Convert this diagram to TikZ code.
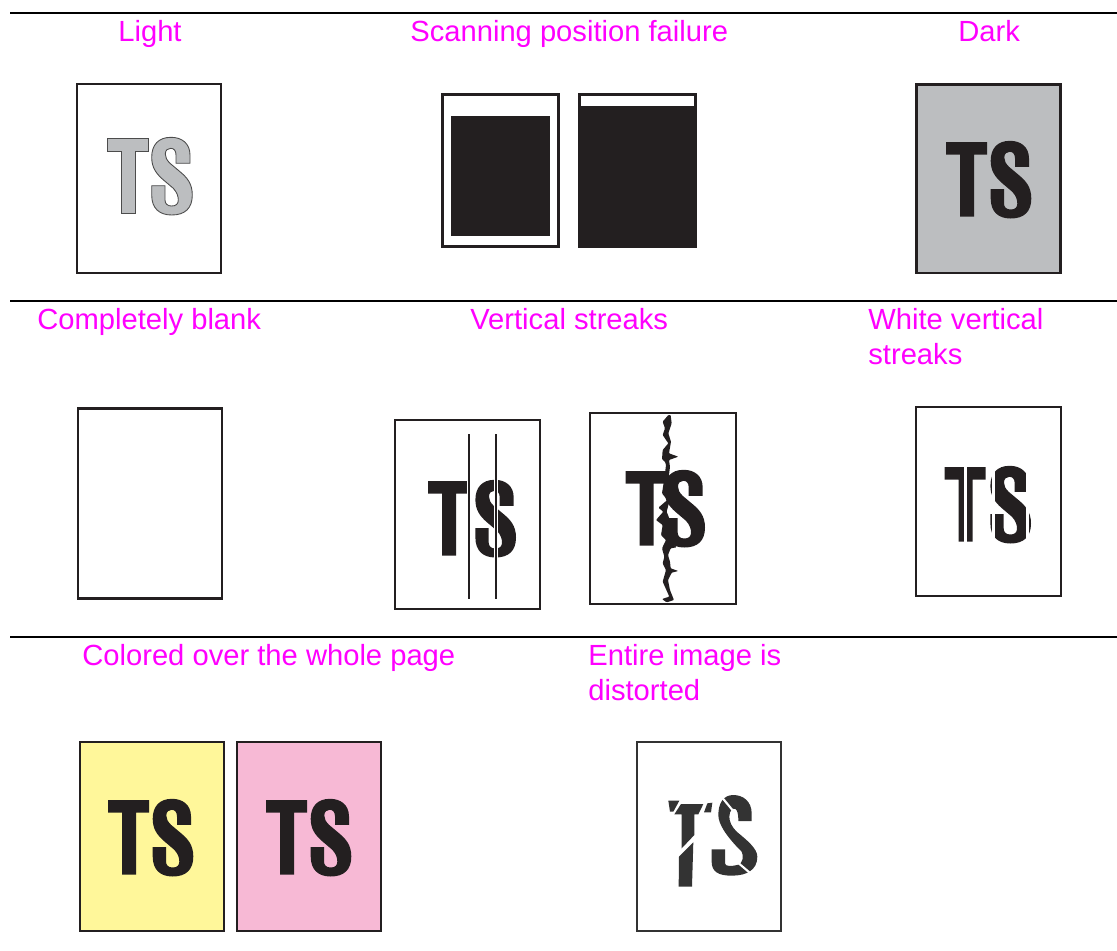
\documentclass[tikz,border=0pt]{standalone}
\usepackage{fontspec}
\setmainfont{Liberation Sans}
\definecolor{inkdark}{HTML}{231F20}
\definecolor{tonergray}{HTML}{BCBEC0}
\definecolor{paleyellow}{HTML}{FFF79A}
\definecolor{palepink}{HTML}{F7B9D5}
\definecolor{captionpink}{HTML}{FF00FF}
\newcommand{\glyphTpath}{(30,54.5) -- (71,54.5) -- (71,67) -- (58,67) -- (58,129) -- (44,129) -- (44,67) -- (30,67) -- cycle}
\newcommand{\glyphSpath}{(113,79.3) -- (113,71) .. controls (113,59.3) and (104.7,53.3) .. (94,53.3)
    .. controls (81.3,53.3) and (74.7,61) .. (74.7,73.3) .. controls (74.7,83.3) and (79,89.3) .. (85.7,95.3)
    -- (96.3,104.3) .. controls (100.3,108.7) and (101.3,112.7) .. (101.3,116)
    .. controls (101.3,120) and (99,122) .. (94.7,122) .. controls (90.7,122) and (88,120) .. (88,116)
    -- (88,101.7) -- (74.7,101.7) -- (74.7,111) .. controls (74.7,124.3) and (82.3,131) .. (94.7,131)
    .. controls (108,131) and (115.3,124.3) .. (115.3,111) .. controls (115.3,99.3) and (109.7,93.3) .. (103,87.7)
    -- (93,79.3) .. controls (89.7,76) and (88.3,73.3) .. (88.3,70) .. controls (88.3,66) and (91,64.3) .. (93.7,64.3)
    .. controls (97,64.3) and (99,66.7) .. (99,71) -- (99,79.3) -- cycle}
\tikzset{
  defect/.style={text=captionpink,anchor=base west,align=left,inner sep=0pt,font=\fontsize{16.6}{19.8}\selectfont},
  rule/.style={line width=0.8pt,black},
  pagebox/.style={draw=inkdark,line width=1.5pt},
  glyphT/.pic={\path[pic actions] \glyphTpath;},
  glyphS/.pic={\path[pic actions] \glyphSpath;},
  tsmark/.pic={\path[pic actions] \glyphTpath; \path[pic actions] \glyphSpath;}
}
\begin{document}
\begin{tikzpicture}[x=0.02cm,y=-0.02cm]
\useasboundingbox (0,0) rectangle (1117,951);
% separators
\draw[rule] (10,13) -- (1117,13);
\draw[rule] (10,301) -- (1117,301);
\draw[rule] (10,637) -- (1117,637);
% captions
\node[defect] (lightlabel) at (118,41) {Light};
\node[defect] (scanlabel) at (410,41) {Scanning position failure};
\node[defect] (darklabel) at (958,41) {Dark};
\node[defect] (blanklabel) at (37,329) {Completely blank};
\node[defect] (streaklabel) at (470,329) {Vertical streaks};
\node[defect] (whitelabel) at (868,364) {White vertical\\streaks};
\node[defect] (coloredlabel) at (82,665) {Colored over the whole page};
\node[defect] (distortlabel) at (588,700) {Entire image is\\distorted};
% first row
\draw[pagebox] (77,84) rectangle (221,273);
\pic[fill=tonergray,draw=black!70,line width=0.5pt] at (77,84) {tsmark};
\draw[pagebox,line width=1.2pt] (442.5,94.5) rectangle (558.5,246.5);
\fill[inkdark] (451,116) rectangle (550,236);
\draw[pagebox,line width=1.2pt] (579.5,94.5) rectangle (695.5,246.5);
\fill[inkdark] (579,106) rectangle (696,247);
\draw[pagebox,fill=tonergray] (916.5,84.5) rectangle (1060.5,273);
\pic[fill=inkdark] at (916,87.5) {tsmark};
% second row
\draw[pagebox,line width=1.7pt] (78,408) rectangle (222,598);
\draw[pagebox] (395,420) rectangle (540,609);
\pic[fill=inkdark] at (398,426.5) {glyphT};
\pic[fill=inkdark] at (400.7,426.5) {glyphS};
\draw[white,line width=2.6pt] (469,470) -- (469,570);
\draw[white,line width=2.6pt] (496,470) -- (496,570);
\draw[inkdark,line width=1.5pt] (469,434) -- (469,599);
\draw[inkdark,line width=1.5pt] (496,434) -- (496,599);
\draw[pagebox,line width=1.2pt] (590,413) rectangle (736,604);
\pic[fill=inkdark] at (595.7,416.5) {glyphT};
\pic[fill=inkdark] at (589.7,416.5) {glyphS};
% crack down the page
\begin{scope}[shift={(380,400)},scale=1/3]
\fill[inkdark,rounded corners=0.5pt] (865,45) -- (848,65) -- (855,85) -- (848,105) -- (865,130) -- (848,150) -- (846,178) -- (855,185) -- (858,195) -- (853,235) -- (846,280) -- (862,300) -- (835,323) -- (850,335) -- (828,360) -- (848,375) -- (843,405) -- (858,420) -- (846,445) -- (853,470) -- (848,490) -- (858,510) -- (848,545) -- (868,590) -- (846,597) -- (860,607) -- (882,600) -- (870,570) -- (864,540) -- (875,518) -- (895,513) -- (872,505) -- (870,485) -- (864,465) -- (872,445) -- (890,442) -- (874,425) -- (877,395) -- (872,365) -- (860,335) -- (872,290) -- (864,250) -- (870,200) -- (867,180) -- (895,170) -- (867,160) -- (873,125) -- (865,100) -- (875,70) -- (872,45) -- cycle;
\end{scope}
\draw[pagebox,line width=1.2pt] (916,407) rectangle (1061,596);
\pic[fill=inkdark] at (914.7,412.5) {glyphT};
\pic[fill=inkdark] at (915.7,412.5) {glyphS};
\draw[white,line width=1.2pt] (965.5,460) -- (965.5,550);
\draw[white,line width=1.2pt] (993.5,460) -- (993.5,550);
\draw[white,line width=1.2pt] (1027.5,460) -- (1027.5,550);
% third row
\draw[pagebox,fill=paleyellow] (80,742) rectangle (224,931);
\pic[fill=inkdark] at (78,745.5) {tsmark};
\draw[pagebox,fill=palepink] (237,742) rectangle (381,931);
\pic[fill=inkdark] at (236,745.5) {tsmark};
\draw[pagebox,draw=black!80] (637,742) rectangle (781,931);
\begin{scope}[shift={(630,735)},scale=1/3]
\fill[black!80] (115,197) -- (148,197) -- (130,230) -- (120,230) -- cycle;
\fill[black!80] (153,207) -- (220,207) -- (205,238) -- (193,238) -- (193,300) -- (155,340) -- (155,238) -- (133,238) -- cycle;
\fill[black!80] (232,205) -- (247,203) -- (243,232) -- (222,232) -- cycle;
\fill[black!80] (147,365) -- (190,322) -- (186,455) -- (146,455) -- cycle;
% sheared S with its two cuts
\fill[black!80] (365,258) -- (365,235) .. controls (365,200) and (340,180) .. (310,180)
  .. controls (280,180) and (265,205) .. (265,240) .. controls (265,265) and (285,300) .. (335,350)
  .. controls (340,360) and (342,385) .. (322,390) .. controls (305,394) and (285,395) .. (285,385)
  -- (285,343) -- (245,343) -- (245,380) .. controls (245,410) and (265,422) .. (305,422)
  .. controls (350,422) and (382,405) .. (382,365) .. controls (382,340) and (350,315) .. (320,290)
  .. controls (305,275) and (298,260) .. (298,245) .. controls (298,225) and (310,218) .. (316,222)
  .. controls (322,226) and (325,235) .. (325,258) -- cycle;
\draw[white,line width=1.2pt] (275,186) -- (308,226);
\draw[white,line width=1.2pt] (318,378) -- (372,424);
\end{scope}
\end{tikzpicture}
\end{document}
